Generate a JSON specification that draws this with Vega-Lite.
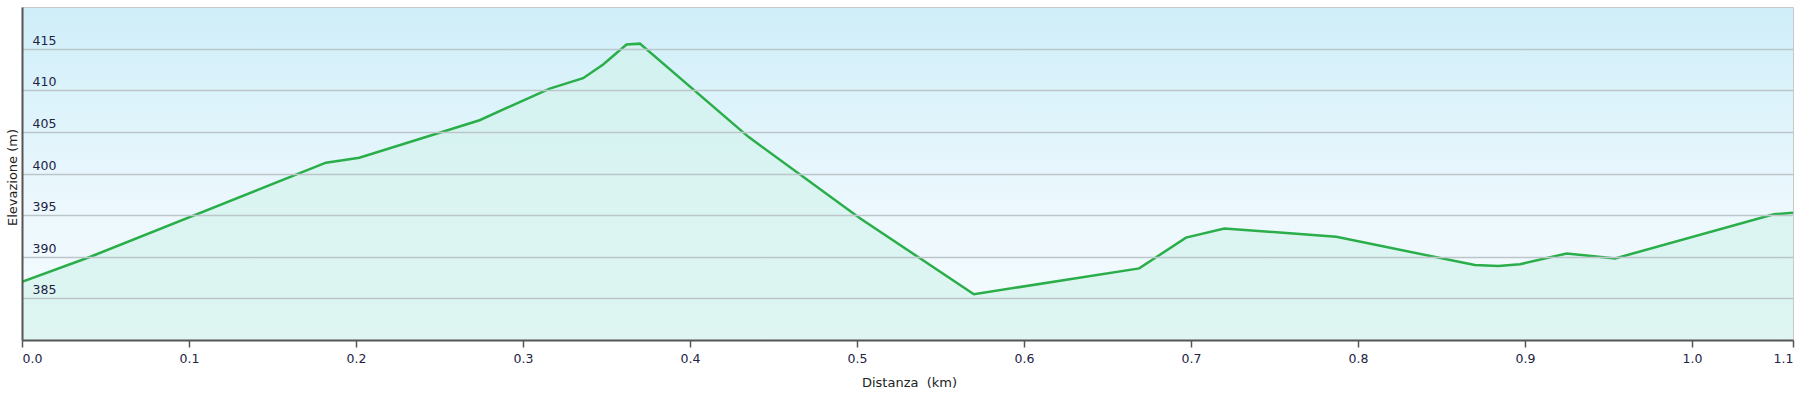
{
  "$schema": "https://vega.github.io/schema/vega-lite/v6.json",
  "autosize": {"type": "none"},
  "width": 1771,
  "height": 333,
  "padding": {"left": 22, "top": 7, "right": 7, "bottom": 55},
  "background": "#ffffff",
  "config": {
    "font": "DejaVu Sans",
    "view": {
      "stroke": "#c8c8c8",
      "strokeWidth": 1,
      "fill": {
        "gradient": "linear",
        "x1": 0, "y1": 0, "x2": 0, "y2": 1,
        "stops": [
          {"offset": 0, "color": "#cfeef9"},
          {"offset": 0.6, "color": "#ecf8fd"},
          {"offset": 1, "color": "#f6fcfe"}
        ]
      }
    }
  },
  "data": {
    "values": [
      {"km": 0.0, "elev": 387.0},
      {"km": 0.041, "elev": 390.0},
      {"km": 0.182, "elev": 401.3},
      {"km": 0.202, "elev": 401.9},
      {"km": 0.274, "elev": 406.4},
      {"km": 0.316, "elev": 410.2},
      {"km": 0.336, "elev": 411.45},
      {"km": 0.348, "elev": 413.1},
      {"km": 0.362, "elev": 415.5},
      {"km": 0.370, "elev": 415.6},
      {"km": 0.435, "elev": 404.4},
      {"km": 0.502, "elev": 394.6},
      {"km": 0.570, "elev": 385.5},
      {"km": 0.669, "elev": 388.6},
      {"km": 0.697, "elev": 392.3},
      {"km": 0.720, "elev": 393.4},
      {"km": 0.787, "elev": 392.4},
      {"km": 0.870, "elev": 389.0},
      {"km": 0.884, "elev": 388.9},
      {"km": 0.897, "elev": 389.1},
      {"km": 0.925, "elev": 390.4},
      {"km": 0.954, "elev": 389.8},
      {"km": 1.049, "elev": 395.1},
      {"km": 1.0605, "elev": 395.3}
    ]
  },
  "mark": {
    "type": "area",
    "clip": true,
    "fill": {
      "gradient": "linear",
      "x1": 0, "y1": 0, "x2": 0, "y2": 1,
      "stops": [
        {"offset": 0, "color": "#d2f2ec"},
        {"offset": 0.5, "color": "#dff8f1"},
        {"offset": 1, "color": "#effcf4"}
      ]
    },
    "line": {"color": "#2aae4a", "strokeWidth": 2.5}
  },
  "encoding": {
    "x": {
      "field": "km",
      "type": "quantitative",
      "scale": {"domain": [0, 1.0605], "nice": false, "zero": false},
      "axis": {
        "zindex": 1,
        "values": [0, 0.1, 0.2, 0.3, 0.4, 0.5, 0.6, 0.7, 0.8, 0.9, 1.0, 1.0605],
        "format": ".1f",
        "grid": false,
        "title": "Distanza \u00a0(km)",
        "titleFont": "DejaVu Sans",
        "titleFontSize": 13,
        "titleFontWeight": "normal",
        "titleColor": "#222222",
        "titleX": 887,
        "titleY": 42,
        "titleAlign": "center",
        "titleBaseline": "middle",
        "labelFont": "DejaVu Sans",
        "labelFontSize": 12.5,
        "labelColor": "#222244",
        "labelPadding": 5,
        "labelFlush": true,
        "labelOverlap": false,
        "domainColor": "#555555",
        "domainWidth": 2,
        "tickColor": "#555555",
        "tickSize": 7,
        "tickWidth": 1.5
      }
    },
    "y": {
      "field": "elev",
      "type": "quantitative",
      "scale": {"domain": [380, 420], "nice": false, "zero": false},
      "axis": {
        "zindex": 1,
        "values": [385, 390, 395, 400, 405, 410, 415],
        "grid": true,
        "gridColor": "#bcc6ca",
        "gridWidth": 1.5,
        "ticks": false,
        "tickSize": 0,
        "title": "Elevazione (m)",
        "titleFont": "DejaVu Sans",
        "titleFontSize": 13,
        "titleFontWeight": "normal",
        "titleColor": "#222222",
        "titleX": -10,
        "titleY": 170,
        "titleAngle": -90,
        "titleAlign": "center",
        "titleBaseline": "middle",
        "labelFont": "DejaVu Sans",
        "labelFontSize": 12.5,
        "labelColor": "#222244",
        "labelAlign": "left",
        "labelBaseline": "alphabetic",
        "labelPadding": -10,
        "labelOffset": -4.5,
        "domainColor": "#555555",
        "domainWidth": 2
      }
    }
  }
}
